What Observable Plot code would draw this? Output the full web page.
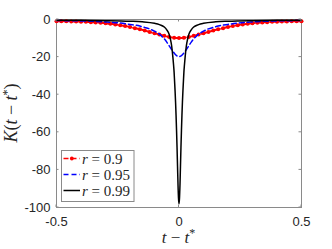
<!DOCTYPE html>
<html>
<head>
<meta charset="utf-8">
<script src="https://cdn.jsdelivr.net/npm/d3@7"></script>
<script src="https://cdn.jsdelivr.net/npm/@observablehq/plot@0.6"></script>
<style>
  html, body { margin: 0; padding: 0; background: white; }
</style>
</head>
<body>
<div id="chart"></div>
<script>
// Tick values
const xTicks = [-0.5, 0, 0.5];
const yTicks = [0, -20, -40, -60, -80, -100];

// r = 0.9 (red, dashed with dot markers)
const redX = [-0.5,-0.48,-0.46,-0.44,-0.42,-0.4,-0.38,-0.36,-0.34,-0.32,-0.3,-0.28,-0.26,-0.24,-0.22,-0.2,-0.18,-0.16,-0.14,-0.12,-0.1,-0.08,-0.06,-0.04,-0.02,
  0,
  0.02,0.04,0.06,0.08,0.1,0.12,0.14,0.16,0.18,0.2,0.22,0.24,0.26,0.28,0.3,0.32,0.34,0.36,0.38,0.4,0.42,0.44,0.46,0.48,0.5];
const redY = [-0.9,-0.9,-0.95,-1.0,-1.05,-1.15,-1.25,-1.4,-1.55,-1.75,-2.0,-2.3,-2.6,-3.0,-3.5,-4.0,-4.6,-5.2,-5.9,-6.6,-7.3,-8.0,-8.7,-9.3,-9.7,
  -9.9,
  -9.7,-9.3,-8.7,-8.0,-7.3,-6.6,-5.9,-5.2,-4.6,-4.0,-3.5,-3.0,-2.6,-2.3,-2.0,-1.75,-1.55,-1.4,-1.25,-1.15,-1.05,-1.0,-0.95,-0.9,-0.9];

// r = 0.95 (blue, dashed)
const blueX = [-0.5,-0.42,-0.36,-0.3,-0.24,-0.2,-0.16,-0.14,-0.12,-0.1,-0.08,-0.07,-0.06,-0.05,-0.04,-0.03,-0.02,-0.01,
  0,
  0.01,0.02,0.03,0.04,0.05,0.06,0.07,0.08,0.1,0.12,0.14,0.16,0.2,0.24,0.3,0.36,0.42,0.5];
const blueY = [-0.55,-0.7,-0.9,-1.3,-1.9,-2.6,-3.5,-4.2,-5.0,-6.2,-7.8,-9.0,-10.3,-12.0,-14.0,-16.0,-17.8,-19.2,
  -19.7,
  -19.2,-17.8,-16.0,-14.0,-12.0,-10.3,-9.0,-7.8,-6.2,-5.0,-4.2,-3.5,-2.6,-1.9,-1.3,-0.9,-0.7,-0.55];

// r = 0.99 (black, solid)
const blackX = [-0.5,-0.4,-0.3,-0.2,-0.15,-0.1,-0.08,-0.06,-0.05,-0.04,-0.035,-0.03,-0.025,-0.022,-0.02,-0.018,-0.016,-0.014,-0.012,-0.01,-0.008,-0.006,-0.004,-0.002,
  0,
  0.002,0.004,0.006,0.008,0.01,0.012,0.014,0.016,0.018,0.02,0.022,0.025,0.03,0.035,0.04,0.05,0.06,0.08,0.1,0.15,0.2,0.3,0.4,0.5];
const blackY = [-0.4,-0.45,-0.6,-0.9,-1.2,-2.0,-2.7,-4.0,-5.5,-8.0,-10.5,-14.0,-20.0,-24.5,-28.0,-33.0,-38.0,-44.0,-51.0,-59.0,-68.0,-78.0,-88.0,-95.0,
  -98.0,
  -95.0,-88.0,-78.0,-68.0,-59.0,-51.0,-44.0,-38.0,-33.0,-28.0,-24.5,-20.0,-14.0,-10.5,-8.0,-5.5,-4.0,-2.7,-2.0,-1.2,-0.9,-0.6,-0.45,-0.4];

const zip = (xs, ys) => xs.map((x, i) => ({x, y: ys[i]}));
const red = zip(redX, redY);
const blue = zip(blueX, blueY);
const black = zip(blackX, blackY);

const axisColor = "#8a8a8a";
const textColor = "#262626";

const chart = Plot.plot({
  width: 332,
  height: 249,
  marginLeft: 56,
  marginRight: 31,
  marginTop: 19,
  marginBottom: 42,
  style: {fontFamily: "'Liberation Sans', Arial, sans-serif", fontSize: "13px", color: textColor, background: "white"},
  x: {domain: [-0.5, 0.5]},
  y: {domain: [-100, 0]},
  marks: [
    Plot.frame({stroke: axisColor, strokeWidth: 1}),
    Plot.line(red, {x: "x", y: "y", stroke: "#ff0000", strokeWidth: 2, strokeDasharray: "5,2", curve: "monotone-x"}),
    Plot.dot(red, {x: "x", y: "y", r: 2, fill: "#ff0000", stroke: "none"}),
    Plot.line(blue, {x: "x", y: "y", stroke: "#0000ff", strokeWidth: 1.5, strokeDasharray: "5,3", curve: "monotone-x"}),
    Plot.line(black, {x: "x", y: "y", stroke: "#000000", strokeWidth: 1.5, curve: "monotone-x"}),
    Plot.axisX({ticks: xTicks, tickSize: 0, tickPadding: 9, tickFormat: d => String(d), label: null, fill: textColor}),
    Plot.axisY({ticks: yTicks, tickSize: 0, tickPadding: 6, tickFormat: d => String(d), label: null, fill: textColor})
  ]
});

document.getElementById("chart").appendChild(chart);

const svg = d3.select(chart);
const sx = chart.scale("x");
const sy = chart.scale("y");
const x0 = sx.apply(-0.5), x1 = sx.apply(0.5);
const y0 = sy.apply(-100), y1 = sy.apply(0);
const tl = 2.5;

// inward ticks
const g = svg.append("g").attr("stroke", axisColor).attr("stroke-width", 1);
for (const t of xTicks) {
  const px = sx.apply(t);
  g.append("line").attr("x1", px).attr("x2", px).attr("y1", y0).attr("y2", y0 - tl);
  g.append("line").attr("x1", px).attr("x2", px).attr("y1", y1).attr("y2", y1 + tl);
}
for (const t of yTicks) {
  const py = sy.apply(t);
  g.append("line").attr("y1", py).attr("y2", py).attr("x1", x0).attr("x2", x0 + tl);
  g.append("line").attr("y1", py).attr("y2", py).attr("x1", x1).attr("x2", x1 - tl);
}

const serif = "'Liberation Serif', 'DejaVu Serif', serif";

// x label
const xl = svg.append("text")
  .attr("x", (x0 + x1) / 2).attr("y", 243)
  .attr("text-anchor", "middle")
  .attr("font-family", serif).attr("font-size", 17).attr("fill", textColor);
xl.append("tspan").attr("font-style", "italic").text("t");
xl.append("tspan").text(" \u2212 ");
xl.append("tspan").attr("font-style", "italic").text("t");
xl.append("tspan").attr("dy", -6).attr("font-size", 12).text("*");

// y label
const yl = svg.append("text")
  .attr("transform", `translate(17,${(y0 + y1) / 2}) rotate(-90)`)
  .attr("text-anchor", "middle")
  .attr("font-family", serif).attr("font-size", 18).attr("fill", textColor);
yl.append("tspan").attr("font-style", "italic").text("K");
yl.append("tspan").text("(");
yl.append("tspan").attr("font-style", "italic").text("t");
yl.append("tspan").text(" \u2212 ");
yl.append("tspan").attr("font-style", "italic").text("t");
yl.append("tspan").attr("dy", -6).attr("font-size", 12).text("*");
yl.append("tspan").attr("dy", 6).text(")");

// legend
const entries = [
  {label: "0.9", color: "#ff0000", dash: "5,3", dot: true},
  {label: "0.95", color: "#0000ff", dash: "5,3", dot: false},
  {label: "0.99", color: "#000000", dash: null, dot: false}
];
const lg = svg.append("g");
lg.append("rect").attr("x", 61.5).attr("y", 150.5).attr("width", 72.5).attr("height", 51)
  .attr("fill", "white").attr("stroke", axisColor).attr("stroke-width", 1);
entries.forEach((e, i) => {
  const cy = 158.5 + i * 16;
  const ln = lg.append("line").attr("x1", 63.5).attr("x2", 80).attr("y1", cy).attr("y2", cy)
    .attr("stroke", e.color).attr("stroke-width", 1.5);
  if (e.dash) ln.attr("stroke-dasharray", e.dash);
  if (e.dot) lg.append("circle").attr("cx", 71.8).attr("cy", cy).attr("r", 1.9).attr("fill", e.color);
  const t = lg.append("text").attr("x", 82).attr("y", cy + 5)
    .attr("text-anchor", "start")
    .attr("font-family", serif).attr("font-size", 15).attr("fill", textColor);
  t.append("tspan").attr("font-style", "italic").text("r");
  t.append("tspan").text(" = " + e.label);
});
</script>
</body>
</html>
